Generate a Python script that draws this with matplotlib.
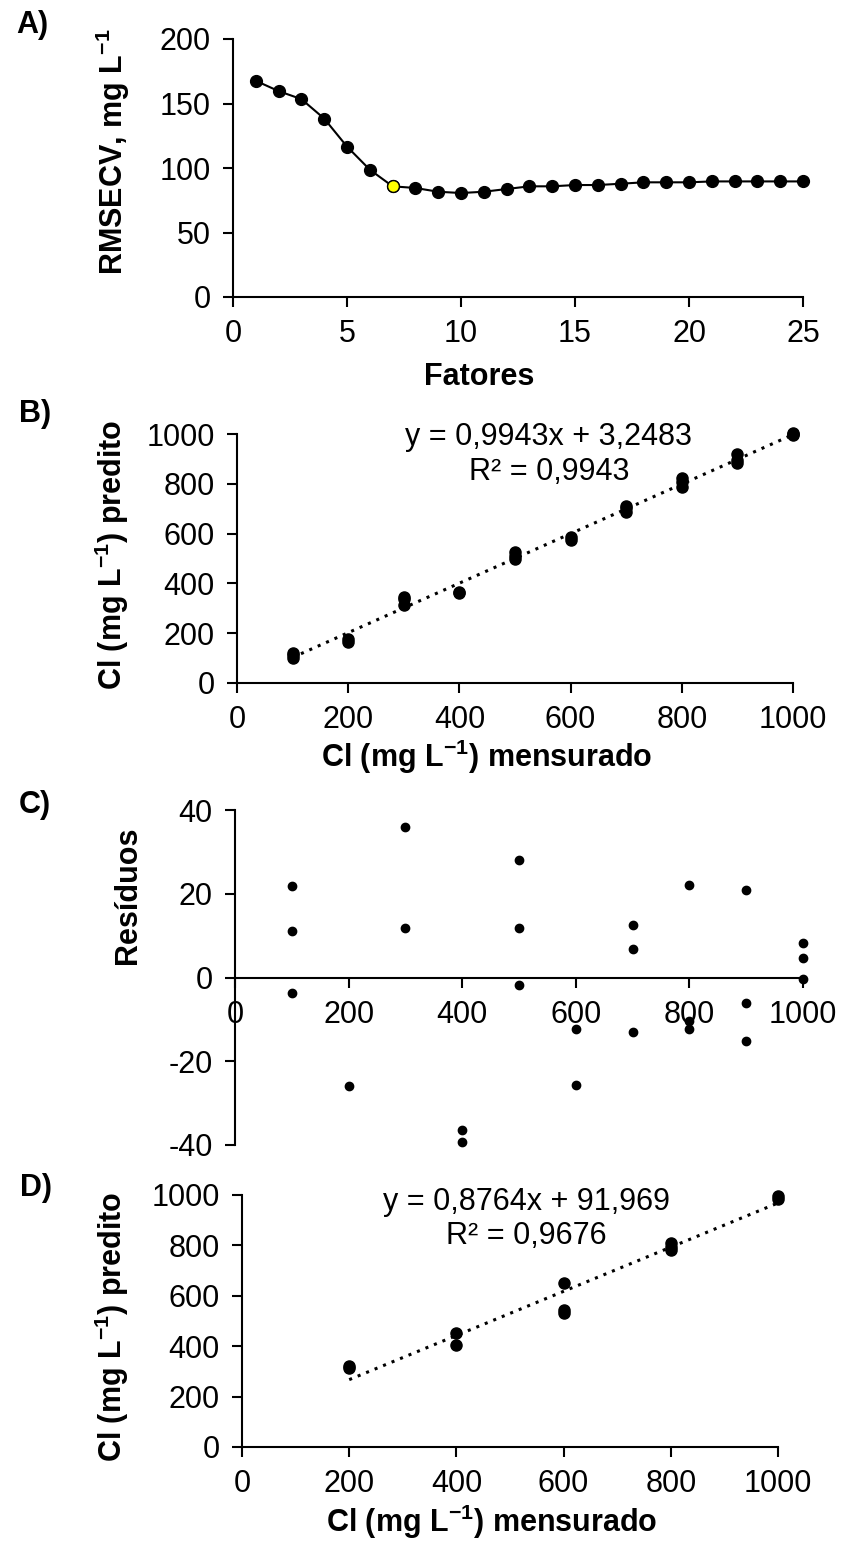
import matplotlib
matplotlib.use('Agg')
import matplotlib.pyplot as plt

plt.rcParams['font.family'] = ['Liberation Sans', 'DejaVu Sans']
plt.rcParams['mathtext.default'] = 'regular'
plt.rcParams['axes.unicode_minus'] = False

W, H = 843, 1544

# A) RMSECV vs number of factors
factors = list(range(1, 26))
rmsecv = [167.6, 159.6, 153.4, 138.3, 116.6, 98.7, 85.8, 84.5, 81.6, 80.6,
          81.6, 83.7, 85.8, 85.8, 86.8, 86.8, 87.8, 88.9, 88.9, 88.9,
          89.6, 89.6, 89.6, 89.6, 89.6]
best_factor = 7

# B) calibration: predicted vs measured
b_measured = [100, 100, 100, 200, 200, 300, 300, 300, 400, 400, 500, 500, 500,
              600, 600, 700, 700, 700, 800, 800, 800, 900, 900, 900, 1000, 1000, 1000]
b_predicted = [122, 111, 100, 178, 166, 346, 336, 312, 364, 361, 528, 512, 498,
               588, 576, 712, 703, 687, 822, 808, 788, 921, 894, 885, 1004, 1000, 996]
b_slope, b_intercept = 0.9943, 3.2483
b_fit_range = [100, 1000]
b_eq = "y = 0,9943x + 3,2483\nR² = 0,9943"

# C) residuals
c_measured = [100, 100, 100, 200, 300, 300, 400, 400, 500, 500, 500, 600, 600,
              700, 700, 700, 800, 800, 800, 900, 900, 900, 1000, 1000, 1000]
c_resid = [21.8, 11.0, -3.8, -25.8, 36.0, 11.9, -36.5, -39.4, 28.0, 11.9, -1.8,
           -12.3, -25.7, 12.6, 6.7, -13.0, 22.1, -10.4, -12.3, 21.0, -6.2, -15.1,
           8.3, 4.6, -0.4]

# D) validation: predicted vs measured
d_measured = [200, 200, 400, 400, 600, 600, 600, 800, 800, 800, 1000, 1000]
d_predicted = [322, 312, 452, 405, 651, 545, 530, 810, 795, 780, 998, 985]
d_slope, d_intercept = 0.8764, 91.969
d_fit_range = [200, 1000]
d_eq = "y = 0,8764x + 91,969\nR² = 0,9676"

FS = 22


def rect(x0, y0, x1, y1):
    # pixel box (top-left origin) -> figure fraction
    return [x0 / W, 1 - y1 / H, (x1 - x0) / W, (y1 - y0) / H]


def fpos(x, y):
    return x / W, 1 - y / H


def style(ax):
    for s in ['top', 'right']:
        ax.spines[s].set_visible(False)
    for s in ['left', 'bottom']:
        ax.spines[s].set_linewidth(1.5)
    ax.tick_params(direction='out', length=7, width=1.5, labelsize=FS, pad=9)


fig = plt.figure(figsize=(W / 100, H / 100), dpi=100)

# ---- A
axA = fig.add_axes(rect(233, 39, 803, 297))
axA.plot(factors, rmsecv, color='black', lw=1.5, marker='o', ms=8.5,
         mfc='black', mec='black', clip_on=False)
i = factors.index(best_factor)
axA.plot(factors[i], rmsecv[i], marker='o', ms=8.5, mfc='yellow', mec='black',
         mew=1, zorder=4, clip_on=False)
axA.set_xlim(0, 25)
axA.set_ylim(0, 200)
axA.set_xticks(range(0, 26, 5))
axA.set_yticks(range(0, 201, 50))
style(axA)

# ---- B
axB = fig.add_axes(rect(237, 434, 793, 683))
axB.plot(b_fit_range, [b_slope * x + b_intercept for x in b_fit_range],
         color='black', ls=(0, (1, 2)), lw=2.2, clip_on=False)
axB.plot(b_measured, b_predicted, 'o', color='black', ms=8, zorder=3, clip_on=False)
axB.set_xlim(0, 1000)
axB.set_ylim(0, 1000)
axB.set_xticks(range(0, 1001, 200))
axB.set_yticks(range(0, 1001, 200))
axB.text(561, 918, b_eq, ha='center', va='center', fontsize=FS, linespacing=1.2)
style(axB)

# ---- C
axC = fig.add_axes(rect(235, 810, 803, 1145))
axC.plot(c_measured, c_resid, 'o', color='black', ms=6, zorder=3, clip_on=False)
axC.set_xlim(0, 1000)
axC.set_ylim(-40, 40)
axC.set_xticks(range(0, 1001, 200))
axC.set_yticks(range(-40, 41, 20))
style(axC)
axC.spines['bottom'].set_position(('data', 0))

# ---- D
axD = fig.add_axes(rect(242, 1195, 778, 1447))
axD.plot(d_fit_range, [d_slope * x + d_intercept for x in d_fit_range],
         color='black', ls=(0, (1, 2)), lw=2.2, clip_on=False)
axD.plot(d_measured, d_predicted, 'o', color='black', ms=8, zorder=3, clip_on=False)
axD.set_xlim(0, 1000)
axD.set_ylim(0, 1000)
axD.set_xticks(range(0, 1001, 200))
axD.set_yticks(range(0, 1001, 200))
axD.text(530, 905, d_eq, ha='center', va='center', fontsize=FS, linespacing=1.2)
style(axD)

# panel letters
for lab, (x, y) in [('A)', (32, 25)), ('B)', (35, 414)), ('C)', (35, 805)), ('D)', (36, 1188))]:
    fig.text(*fpos(x, y), lab, fontsize=FS, fontweight='bold', ha='center', va='center')

# axis titles
ylab_pred = 'Cl (mg L$^{-1}$) predito'
xlab_meas = 'Cl (mg L$^{-1}$) mensurado'
fig.text(*fpos(113, 152), 'RMSECV, mg L$^{-1}$', rotation=90, fontsize=FS,
         fontweight='bold', ha='center', va='center')
fig.text(*fpos(112, 555), ylab_pred, rotation=90, fontsize=FS,
         fontweight='bold', ha='center', va='center')
fig.text(*fpos(128, 895), 'Resíduos', rotation=90, fontsize=FS,
         fontweight='bold', ha='center', va='center')
fig.text(*fpos(112, 1327), ylab_pred, rotation=90, fontsize=FS,
         fontweight='bold', ha='center', va='center')
fig.text(*fpos(479, 377), 'Fatores', fontsize=FS, fontweight='bold', ha='center', va='center')
fig.text(*fpos(487, 757), xlab_meas, fontsize=FS, fontweight='bold', ha='center', va='center')
fig.text(*fpos(492, 1522), xlab_meas, fontsize=FS, fontweight='bold', ha='center', va='center')

fig.savefig('out.png', dpi=100)
